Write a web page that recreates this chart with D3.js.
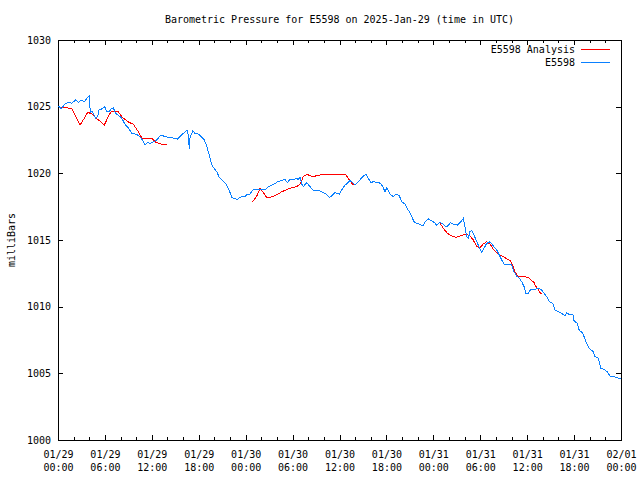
<!DOCTYPE html>
<html><head><meta charset="utf-8">
<script src="https://cdn.jsdelivr.net/npm/d3@7"></script>
<style>
body{margin:0;background:#fff}
text{font-family:"DejaVu Sans Mono","Liberation Mono",monospace;font-size:10px;fill:#000}
</style>
</head><body><svg id="c" width="640" height="480"></svg>
<script>
const title = "Barometric Pressure for E5598 on 2025-Jan-29 (time in UTC)";
const yLabel = "milliBars";
const seriesNames = ["E5598 Analysis", "E5598"];
const seriesColors = ["#ff0000", "#0a80ff"];
const startUTC = Date.UTC(2025, 0, 29, 0, 0);
const endUTC = Date.UTC(2025, 1, 1, 0, 0);
const yTicks = [1000, 1005, 1010, 1015, 1020, 1025, 1030];

// hours since 2025-01-29 00:00 UTC
const stationHours = [0.04,0.47,0.81,1.32,1.75,2.26,2.60,3.03,3.36,3.88,4.00,4.13,4.39,4.82,5.08,5.24,5.59,6.01,6.23,6.56,6.78,7.07,7.38,7.80,8.15,8.57,8.99,9.43,10.07,10.62,10.91,11.13,11.47,11.77,12.19,12.62,13.17,13.68,14.32,15.09,15.26,15.82,16.37,16.54,16.66,16.79,16.88,17.23,17.52,17.94,18.38,18.67,18.93,19.09,19.35,19.66,19.95,20.30,20.63,20.94,21.23,21.58,21.91,22.22,22.51,22.93,23.28,23.62,23.92,24.21,24.56,24.90,25.20,25.84,26.47,26.90,27.33,27.88,28.05,28.61,29.03,29.33,29.67,30.09,30.44,30.73,30.95,31.17,31.37,31.81,32.23,32.65,33.16,33.73,34.28,34.70,35.00,35.43,35.98,36.28,36.71,37.00,37.34,37.69,37.98,38.41,38.97,39.39,39.69,39.99,40.32,40.76,41.27,41.60,41.82,42.04,42.46,42.88,43.23,43.65,43.96,44.38,44.60,44.93,45.24,45.53,45.88,46.30,46.64,46.94,47.36,47.79,48.09,48.43,48.86,49.28,49.62,49.91,50.13,50.56,51.07,51.41,51.84,52.05,52.27,52.47,52.69,52.91,53.20,53.55,53.88,54.19,54.48,54.83,55.25,55.67,56.11,56.44,56.75,57.04,57.59,58.03,58.32,58.66,59.00,59.30,59.60,59.85,60.15,60.45,61.00,61.43,61.86,62.16,62.50,62.83,63.27,63.56,63.98,64.42,64.84,65.06,65.48,65.83,65.99,66.41,66.67,67.10,67.40,67.69,68.04,68.38,68.68,69.10,69.41,69.83,70.25,70.60,71.02,71.37,71.66,71.97];
const stationPres = [1025.05,1024.83,1025.18,1025.33,1025.25,1025.50,1025.33,1025.50,1025.37,1025.75,1025.80,1024.58,1024.62,1024.13,1024.25,1024.75,1024.83,1025.00,1024.62,1024.62,1024.83,1024.92,1024.50,1024.32,1024.13,1023.68,1023.42,1023.00,1022.93,1022.67,1022.37,1022.13,1022.33,1022.25,1022.37,1022.50,1022.88,1022.75,1022.67,1022.63,1022.55,1022.88,1023.18,1023.20,1022.88,1021.80,1022.63,1023.20,1023.00,1022.95,1022.70,1022.55,1022.20,1021.88,1021.38,1020.63,1020.38,1020.12,1019.70,1019.50,1019.37,1019.12,1018.70,1018.20,1018.13,1018.05,1018.20,1018.30,1018.25,1018.45,1018.45,1018.75,1018.80,1018.80,1018.75,1019.00,1019.12,1019.25,1019.37,1019.45,1019.55,1019.30,1019.55,1019.50,1019.63,1019.55,1019.70,1019.20,1019.00,1019.30,1019.00,1018.70,1018.75,1018.62,1018.45,1018.20,1018.30,1018.55,1018.45,1018.75,1019.12,1019.25,1019.45,1019.30,1019.12,1019.37,1019.75,1019.95,1019.63,1019.30,1019.37,1019.33,1019.25,1018.92,1018.62,1018.92,1018.43,1018.25,1018.43,1018.32,1017.87,1017.68,1017.42,1017.12,1016.75,1016.37,1016.25,1016.18,1016.05,1016.33,1016.58,1016.43,1016.33,1016.12,1016.33,1016.18,1016.00,1016.07,1016.30,1016.20,1016.12,1016.30,1016.63,1016.00,1015.25,1015.13,1015.63,1015.70,1015.38,1014.87,1014.45,1014.05,1014.38,1014.75,1014.87,1014.55,1014.25,1013.87,1013.50,1013.20,1013.13,1013.13,1012.62,1012.30,1012.13,1011.87,1011.50,1010.95,1011.00,1011.30,1011.30,1011.38,1011.25,1011.00,1010.75,1010.37,1010.25,1009.75,1009.62,1009.50,1009.30,1009.55,1009.37,1009.45,1008.95,1008.75,1008.20,1008.05,1007.55,1007.12,1006.80,1006.70,1006.25,1006.13,1005.38,1005.30,1005.12,1004.80,1004.75,1004.70,1004.63,1004.63];

// analysis runs, separated by null
const analysisHours = [0.04,0.81,1.75,2.26,2.81,3.36,3.80,4.39,4.82,5.37,5.92,6.43,6.78,7.29,7.71,8.15,8.66,9.08,9.63,9.94,10.27,10.62,10.78,11.55,12.06,12.41,12.83,13.26,13.90,null,24.90,25.49,25.83,26.18,26.69,27.11,27.62,28.17,28.61,29.67,30.53,31.04,31.37,31.81,32.57,33.51,34.57,36.07,36.83,37.26,37.77,null,48.86,49.28,49.79,50.35,50.90,51.41,51.84,52.27,52.69,53.11,53.55,53.97,54.39,54.83,55.25,55.67,56.18,56.75,57.30,57.81,58.15,58.45,58.75,59.18,59.73,60.28,60.88,61.13,61.43,61.64,61.86];
const analysisPres = [1025.00,1024.92,1024.88,1024.25,1023.62,1024.13,1024.58,1024.43,1024.17,1023.92,1023.62,1024.25,1024.62,1024.68,1024.62,1024.25,1024.00,1023.83,1023.68,1023.42,1023.12,1022.75,1022.63,1022.63,1022.58,1022.37,1022.25,1022.18,1022.18,null,1017.87,1018.37,1018.88,1018.62,1018.20,1018.20,1018.30,1018.45,1018.62,1018.88,1019.00,1019.25,1019.75,1019.93,1019.75,1019.88,1019.88,1019.88,1019.88,1019.50,1019.12,null,1016.25,1015.88,1015.50,1015.30,1015.20,1015.30,1015.38,1015.45,1015.30,1015.00,1014.50,1014.45,1014.70,1014.87,1014.70,1014.30,1014.00,1013.80,1013.63,1013.45,1013.13,1012.62,1012.30,1012.25,1012.25,1012.13,1011.80,1011.50,1011.30,1011.05,1010.95];

const L = 58, R = 621, T = 40, B = 440;
const svg = d3.select("#c");
const toDate = h => h == null ? null : new Date(startUTC + h * 3600e3);

const x = d3.scaleUtc().domain([new Date(startUTC), new Date(endUTC)]).range([L, R]);
const y = d3.scaleLinear().domain([1000, 1030]).range([B, T]);

const fmtD = d3.utcFormat("%m/%d"), fmtT = d3.utcFormat("%H:%M");
const major = d3.utcHour.every(6).range(new Date(startUTC), new Date(endUTC + 1));
const minor = d3.utcHour.every(2).range(new Date(startUTC), new Date(endUTC + 1));

function clean(g){ g.select(".domain").remove(); g.selectAll("line").attr("stroke","#000").attr("shape-rendering","crispEdges"); }

// minor ticks bottom/top
svg.append("g").attr("transform",`translate(0,${B})`)
  .call(d3.axisBottom(x).tickValues(minor).tickSize(-3).tickFormat(""))
  .call(clean);
svg.append("g").attr("transform",`translate(0,${T})`)
  .call(d3.axisTop(x).tickValues(minor).tickSize(-3).tickFormat(""))
  .call(clean);
// major ticks with labels
const xa = svg.append("g").attr("transform",`translate(0,${B})`)
  .call(d3.axisBottom(x).tickValues(major).tickSize(-5).tickPadding(11).tickFormat(fmtD))
  .call(clean);
xa.selectAll(".tick text").each(function(d){
  const t = d3.select(this);
  t.text(null).attr("dy", null).attr("y", 18);
  t.append("tspan").attr("x", 0).text(fmtD(d));
  t.append("tspan").attr("x", 0).attr("dy", 13).text(fmtT(d));
});
xa.selectAll("text").attr("font-family", null).attr("font-size", null).attr("fill", "#000");
svg.append("g").attr("transform",`translate(0,${T})`)
  .call(d3.axisTop(x).tickValues(major).tickSize(-5).tickFormat(""))
  .call(clean);

// y axes
const ya = svg.append("g").attr("transform",`translate(${L},0)`)
  .call(d3.axisLeft(y).tickValues(yTicks).tickSize(-5).tickPadding(7).tickFormat(d3.format("d")))
  .call(clean);
ya.selectAll("text").attr("font-family", null).attr("font-size", null).attr("fill", "#000");
svg.append("g").attr("transform",`translate(${R},0)`)
  .call(d3.axisRight(y).tickValues(yTicks).tickSize(-5).tickFormat(""))
  .call(clean);

// border
svg.append("rect").attr("x", L).attr("y", T).attr("width", R - L).attr("height", B - T)
  .attr("fill", "none").attr("stroke", "#000").attr("shape-rendering", "crispEdges");

// series
const line = d3.line().defined(d => d[0] != null && d[1] != null)
  .x(d => x(d[0])).y(d => y(d[1]));
const analysisData = analysisHours.map((h, i) => [toDate(h), analysisPres[i]]);
const stationData = stationHours.map((h, i) => [toDate(h), stationPres[i]]);
svg.append("path").datum(analysisData).attr("d", line)
  .attr("fill", "none").attr("stroke", seriesColors[0]).attr("stroke-width", 1).attr("shape-rendering", "crispEdges");
svg.append("path").datum(stationData).attr("d", line)
  .attr("fill", "none").attr("stroke", seriesColors[1]).attr("stroke-width", 1).attr("shape-rendering", "crispEdges");

// title
svg.append("text").attr("x", (L + R) / 2).attr("y", 23).attr("text-anchor", "middle").text(title);
// y label
svg.append("text").attr("transform", `translate(15,${(T + B) / 2}) rotate(-90)`).attr("text-anchor", "middle").text(yLabel);

// legend
const leg = svg.append("g");
seriesNames.forEach((n, i) => {
  const ly = 49.5 + i * 13;
  leg.append("text").attr("x", 575).attr("y", ly + 3.5).attr("text-anchor", "end").text(n);
  leg.append("line").attr("x1", 581).attr("x2", 610).attr("y1", ly).attr("y2", ly)
    .attr("stroke", seriesColors[i]).attr("shape-rendering", "crispEdges");
});
</script>
</body></html>
